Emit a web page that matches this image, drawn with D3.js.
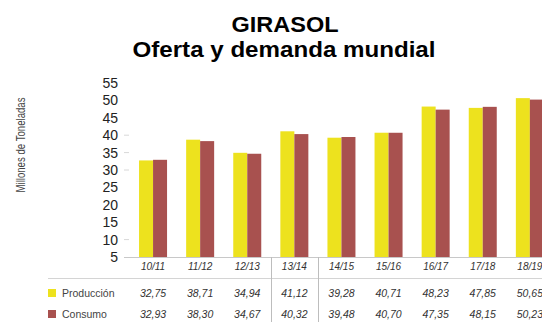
<!DOCTYPE html>
<html>
<head>
<meta charset="utf-8">
<script src="https://cdn.jsdelivr.net/npm/d3@7"></script>
<style>
  html, body { margin: 0; padding: 0; background: #fff; }
  svg { display: block; font-family: Arial, "Liberation Sans", sans-serif; }
</style>
</head>
<body>
<svg id="chart" width="542" height="322"></svg>
<script>
// Campañas (marketing years)
const campaigns = ["10/11", "11/12", "12/13", "13/14", "14/15", "15/16", "16/17", "17/18", "18/19"];
// Millones de toneladas
const produccion = [32.75, 38.71, 34.94, 41.12, 39.28, 40.71, 48.23, 47.85, 50.65];
const consumo    = [32.93, 38.30, 34.67, 40.32, 39.48, 40.70, 47.35, 48.15, 50.23];
const seriesNames = ["Producción", "Consumo"];
const yTicks = [5, 10, 15, 20, 25, 30, 35, 40, 45, 50, 55];

const colors = { "Producción": "#EDE21E", "Consumo": "#A8514F" };
const fmt = v => v.toFixed(2).replace(".", ",");

const svg = d3.select("#chart");

// Title
svg.append("text").attr("x", 285).attr("y", 32)
  .attr("text-anchor", "middle").attr("font-weight", "bold")
  .attr("font-size", 22).attr("fill", "#000")
  .attr("textLength", 107).attr("lengthAdjust", "spacingAndGlyphs")
  .text("GIRASOL");
svg.append("text").attr("x", 284).attr("y", 57)
  .attr("text-anchor", "middle").attr("font-weight", "bold")
  .attr("font-size", 22).attr("fill", "#000")
  .attr("textLength", 303).attr("lengthAdjust", "spacingAndGlyphs")
  .text("Oferta y demanda mundial");

// Scales
const x = d3.scaleBand().domain(campaigns).range([129.5, 129.5 + 47.1 * campaigns.length]);
const barW = 14;
const xs = d3.scaleBand().domain(seriesNames)
  .range([x.bandwidth() / 2 - barW, x.bandwidth() / 2 + barW]);
const y = d3.scaleLinear().domain([5, 55]).range([257, 83]);

// Y axis
const yAxis = svg.append("g").attr("transform", "translate(121,0)")
  .call(d3.axisLeft(y).tickValues(yTicks).tickSize(0).tickPadding(3));
yAxis.select(".domain").remove();
yAxis.selectAll("text").attr("font-size", 14).attr("fill", "#222")
  .attr("font-family", "Arial, 'Liberation Sans', sans-serif");

// faint tick stubs
svg.append("g").selectAll("line").data([10, 30, 35, 40]).join("line")
  .attr("x1", 124).attr("x2", 129)
  .attr("y1", d => y(d)).attr("y2", d => y(d))
  .attr("stroke", "#d8d8d8").attr("stroke-width", 1);

// Y axis title
svg.append("text")
  .attr("transform", "translate(25,145) rotate(-90)")
  .attr("text-anchor", "middle").attr("font-size", 12).attr("fill", "#444")
  .attr("textLength", 95).attr("lengthAdjust", "spacingAndGlyphs")
  .text("Millones de Toneladas");

// Bars
const rows = campaigns.map((c, i) => ({ c, "Producción": produccion[i], "Consumo": consumo[i] }));
const groups = svg.append("g").selectAll("g").data(rows).join("g")
  .attr("transform", d => `translate(${x(d.c)},0)`);
groups.selectAll("rect").data(d => seriesNames.map(s => ({ s, v: d[s] }))).join("rect")
  .attr("x", d => xs(d.s)).attr("width", xs.bandwidth())
  .attr("y", d => y(d.v)).attr("height", d => y(5) - y(d.v))
  .attr("fill", d => colors[d.s]);

// Baseline
svg.append("line").attr("x1", 124).attr("x2", 542)
  .attr("y1", y(5) + 0.5).attr("y2", y(5) + 0.5)
  .attr("stroke", "#c8c8c8").attr("stroke-width", 1);

// Data table: category labels
svg.append("g").selectAll("text").data(campaigns).join("text")
  .attr("x", d => x(d) + x.bandwidth() / 2).attr("y", 270)
  .attr("text-anchor", "middle").attr("font-size", 10).attr("font-style", "italic")
  .attr("fill", "#333").text(d => d);

svg.append("line").attr("x1", 48).attr("x2", 542)
  .attr("y1", 278.5).attr("y2", 278.5)
  .attr("stroke", "#d4d4d4").attr("stroke-width", 1);

// vertical separators around the 13/14 column
[x("13/14"), x("13/14") + x.bandwidth()].forEach(px => {
  svg.append("line").attr("x1", Math.round(px) + 0.5).attr("x2", Math.round(px) + 0.5)
    .attr("y1", 257).attr("y2", 322).attr("stroke", "#bdbdbd").attr("stroke-width", 1);
});

// Table rows
const tableRows = [
  { name: "Producción", values: produccion, yy: 297 },
  { name: "Consumo", values: consumo, yy: 318 }
];
tableRows.forEach(r => {
  svg.append("rect").attr("x", 48).attr("y", r.yy - 8).attr("width", 8).attr("height", 8)
    .attr("fill", colors[r.name]);
  svg.append("text").attr("x", 62).attr("y", r.yy).attr("font-size", 10.5)
    .attr("fill", "#444").text(r.name);
  svg.append("g").selectAll("text").data(r.values).join("text")
    .attr("x", (d, i) => x(campaigns[i]) + x.bandwidth() / 2).attr("y", r.yy)
    .attr("text-anchor", "middle").attr("font-size", 10.5).attr("font-style", "italic")
    .attr("fill", "#333").text(d => fmt(d));
});
</script>
</body>
</html>
